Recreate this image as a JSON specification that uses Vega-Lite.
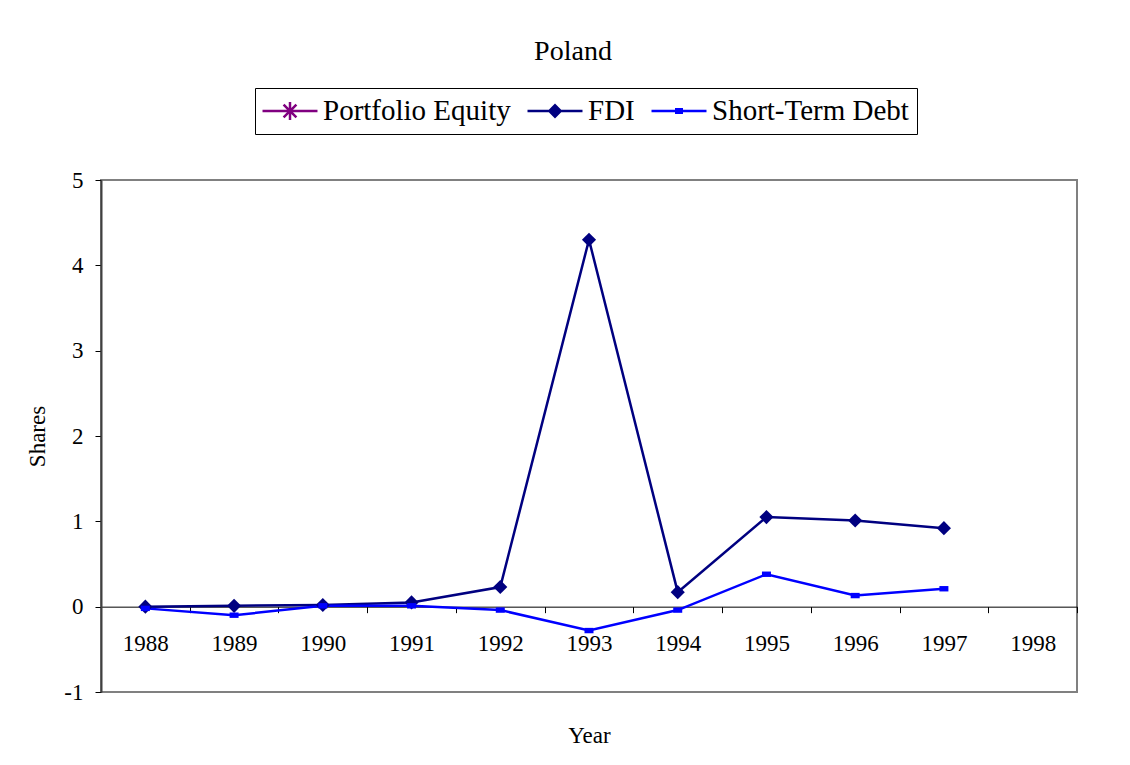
{
  "$schema": "https://vega.github.io/schema/vega-lite/v6.json",
  "width": 976,
  "height": 512,
  "autosize": "none",
  "padding": {"left": 101, "top": 180, "right": 53, "bottom": 73},
  "background": "white",
  "title": {"text": "Poland", "font": "Liberation Serif", "fontSize": 28, "fontWeight": "normal", "color": "black", "dx": -16, "offset": 22},
  "config": {
    "view": {"stroke": "#808080", "strokeWidth": 2},
    "font": "Liberation Serif"
  },
  "data": {
    "values": [
      {"year": "1988", "series": "FDI", "value": 0.0},
      {"year": "1989", "series": "FDI", "value": 0.01},
      {"year": "1990", "series": "FDI", "value": 0.02},
      {"year": "1991", "series": "FDI", "value": 0.05},
      {"year": "1992", "series": "FDI", "value": 0.23},
      {"year": "1993", "series": "FDI", "value": 4.30},
      {"year": "1994", "series": "FDI", "value": 0.17},
      {"year": "1995", "series": "FDI", "value": 1.05},
      {"year": "1996", "series": "FDI", "value": 1.01},
      {"year": "1997", "series": "FDI", "value": 0.92},
      {"year": "1988", "series": "Short-Term Debt", "value": -0.02},
      {"year": "1989", "series": "Short-Term Debt", "value": -0.10},
      {"year": "1990", "series": "Short-Term Debt", "value": 0.01},
      {"year": "1991", "series": "Short-Term Debt", "value": 0.01},
      {"year": "1992", "series": "Short-Term Debt", "value": -0.04},
      {"year": "1993", "series": "Short-Term Debt", "value": -0.28},
      {"year": "1994", "series": "Short-Term Debt", "value": -0.04},
      {"year": "1995", "series": "Short-Term Debt", "value": 0.38},
      {"year": "1996", "series": "Short-Term Debt", "value": 0.13},
      {"year": "1997", "series": "Short-Term Debt", "value": 0.21}
    ]
  },
  "encoding": {
    "x": {
      "field": "year",
      "type": "ordinal",
      "bandPosition": 0.5,
      "scale": {"type": "band", "domain": ["1988","1989","1990","1991","1992","1993","1994","1995","1996","1997","1998"], "paddingInner": 0, "paddingOuter": 0},
      "axis": {
        "offset": -85.333,
        "tickBand": "extent",
        "labelAngle": 0,
        "labelFont": "Liberation Serif",
        "labelFontSize": 23,
        "labelColor": "black",
        "labelPadding": 20,
        "tickSize": 6,
        "tickColor": "black",
        "domainColor": "black",
        "domainWidth": 1,
        "grid": false,
        "title": "Year",
        "titleFont": "Liberation Serif",
        "titleFontSize": 23,
        "titleFontWeight": "normal",
        "titleColor": "black",
        "titlePadding": 69
      }
    },
    "y": {
      "field": "value",
      "type": "quantitative",
      "scale": {"domain": [-1, 5], "nice": false, "zero": false},
      "axis": {
        "values": [-1, 0, 1, 2, 3, 4, 5],
        "labelExpr": "datum.value < 0 ? '-' + format(abs(datum.value), 'd') : datum.label",
        "grid": false,
        "labelFont": "Liberation Serif",
        "labelFontSize": 23,
        "labelColor": "black",
        "labelPadding": 12,
        "tickSize": 6,
        "tickColor": "black",
        "domainColor": "#404040",
        "domainWidth": 2,
        "title": "Shares",
        "titleFont": "Liberation Serif",
        "titleFontSize": 23,
        "titleFontWeight": "normal",
        "titleColor": "black",
        "titlePadding": 14
      }
    }
  },
  "layer": [
    {
      "mark": {"type": "line", "strokeWidth": 2.5},
      "encoding": {
        "color": {
          "field": "series",
          "type": "nominal",
          "scale": {"domain": ["Portfolio Equity", "FDI", "Short-Term Debt"], "range": ["#800080", "#000080", "#0000FF"]},
          "legend": {
            "orient": "none",
            "legendX": 154,
            "legendY": -92,
            "direction": "horizontal",
            "title": null,
            "strokeColor": "black",
            "padding": 8,
            "labelFont": "Liberation Serif",
            "labelFontSize": 29,
            "labelColor": "black",
            "labelLimit": 500,
            "labelOffset": 18,
            "symbolOffset": 12,
            "columnPadding": 16,
            "symbolSize": 900,
            "encode": {
              "symbols": {
                "update": {
                  "shape": {"signal": "datum.value === 'FDI' ? 'M-1.833,-0.083H1.833V0.083H-1.833Z M0,-0.495L0.495,0L0,0.495L-0.495,0Z' : datum.value === 'Short-Term Debt' ? 'M-1.833,-0.083H1.833V0.083H-1.833Z M-0.266,-0.2H0.266V0.2H-0.266Z' : 'M-1.833,-0.083H1.833V0.083H-1.833Z M-0.083,-0.605H0.083V0.605H-0.083Z M-0.368,-0.486L0.486,0.368L0.368,0.486L-0.486,-0.368Z M0.486,-0.368L-0.368,0.486L-0.486,0.368L0.368,-0.486Z'"},
                  "fill": {"signal": "datum.value === 'FDI' ? '#000080' : datum.value === 'Short-Term Debt' ? '#0000FF' : '#800080'"},
                  "stroke": {"value": "transparent"},
                  "strokeWidth": {"value": 0},
                  "opacity": {"value": 1}
                }
              }
            }
          }
        }
      }
    },
    {
      "transform": [{"filter": "datum.series === 'FDI'"}],
      "mark": {"type": "point", "shape": "diamond", "size": 200, "filled": true, "opacity": 1, "color": "#000080"}
    },
    {
      "transform": [{"filter": "datum.series === 'Short-Term Debt'"}],
      "mark": {"type": "point", "shape": "M-1,-0.6H1V0.6H-1Z", "size": 81, "filled": true, "opacity": 1, "color": "#0000FF"}
    }
  ]
}
